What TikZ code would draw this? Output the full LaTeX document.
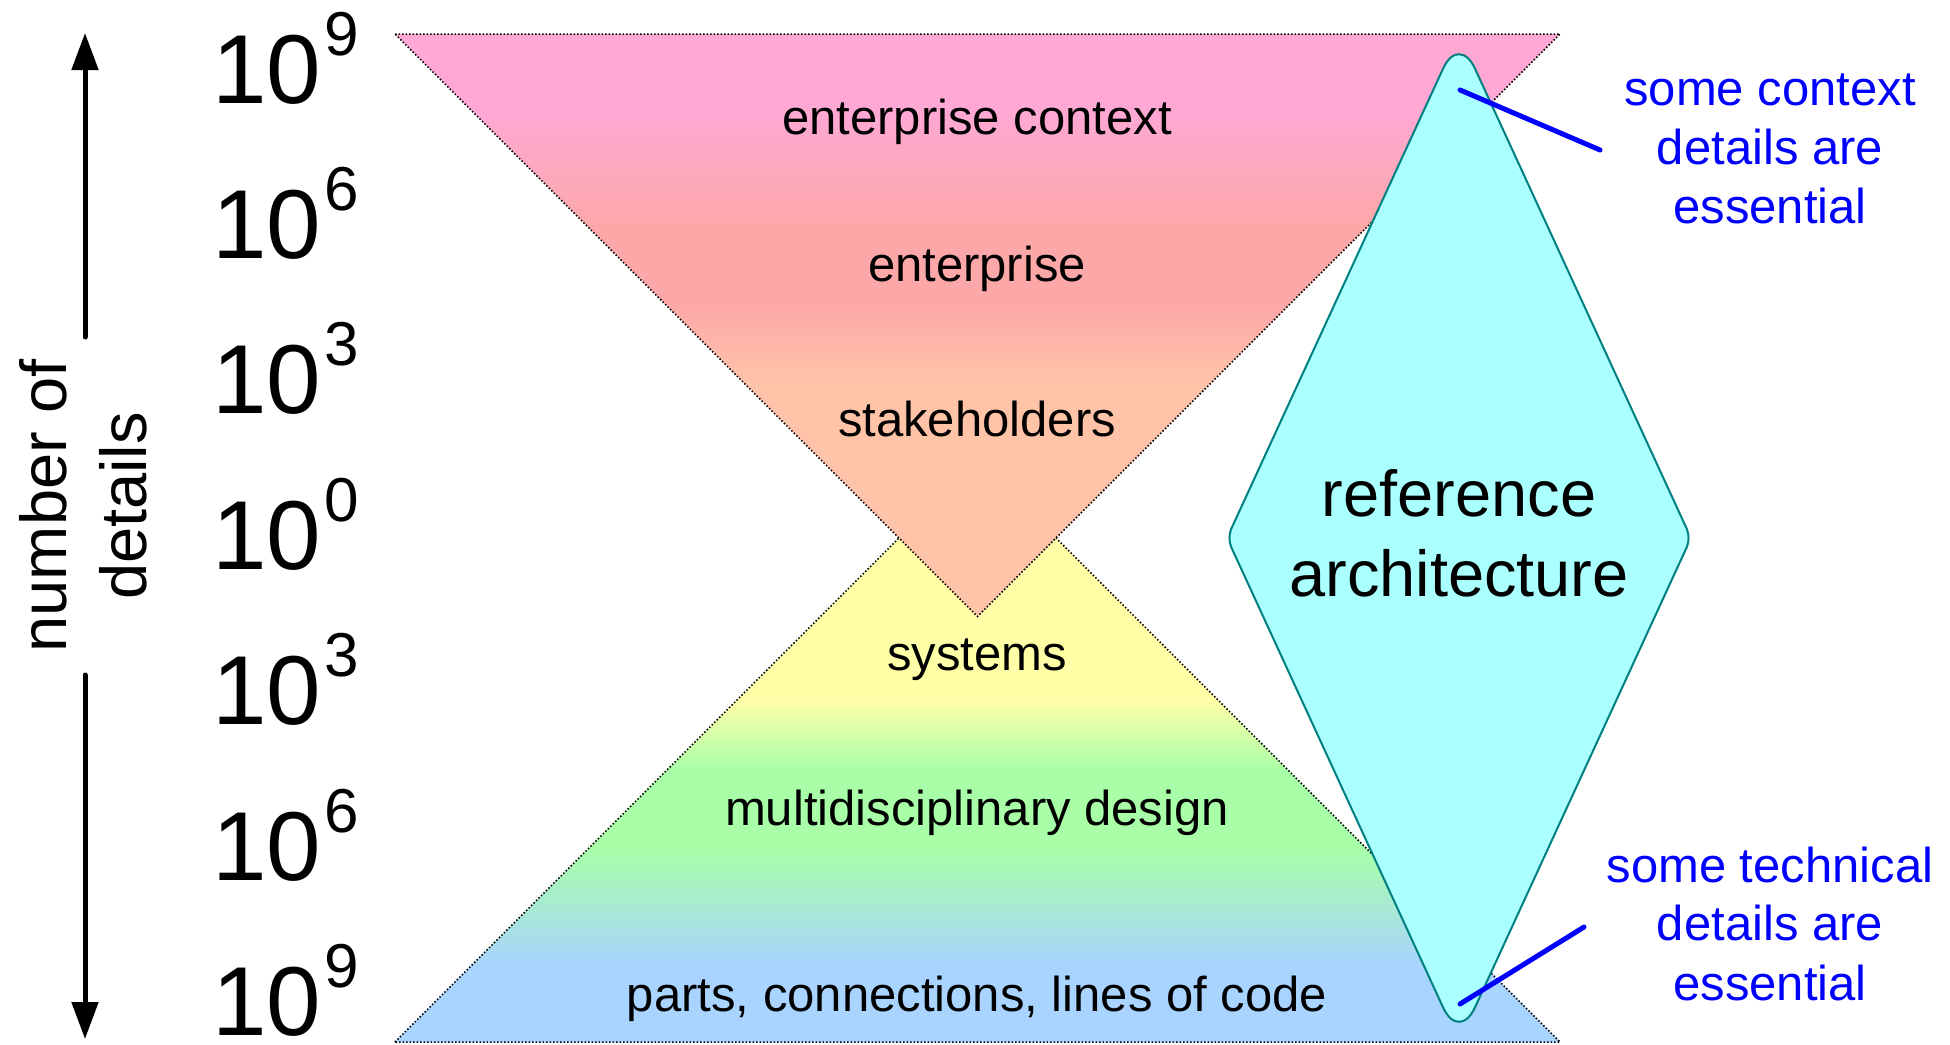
\documentclass[tikz,border=0pt]{standalone}
\usepackage{fontspec}
\setmainfont{Liberation Sans}
\usetikzlibrary{arrows.meta}
\definecolor{pinkA}{RGB}{255,168,212}
\definecolor{salmonA}{RGB}{252,168,168}
\definecolor{peachA}{RGB}{255,196,168}
\definecolor{yellowA}{RGB}{255,255,168}
\definecolor{greenA}{RGB}{168,255,168}
\definecolor{blueA}{RGB}{168,212,255}
\definecolor{cyanA}{RGB}{170,255,255}
\definecolor{tealA}{RGB}{0,128,128}
\definecolor{noteblue}{RGB}{0,0,255}
\begin{document}
\begin{tikzpicture}[x=1pt,y=-1pt,
  tridot/.style={draw=black, line width=1.5pt, dash pattern=on 1.5pt off 2pt},
  lbl/.style={anchor=base, inner sep=0pt, font=\fontsize{49}{58}\selectfont},
  biglbl/.style={anchor=base, inner sep=0pt, font=\fontsize{65}{80}\selectfont},
  notelbl/.style={anchor=base, inner sep=0pt, text=noteblue, font=\fontsize{49}{58}\selectfont},
  explbl/.style={anchor=base west, inner sep=0pt, font=\fontsize{98}{98}\selectfont},
  axlbl/.style={anchor=base, inner sep=0pt, rotate=90, font=\fontsize{65}{80}\selectfont},
  axarrow/.style={line width=5pt, line cap=round, -{Triangle[width=26pt,length=37pt]}},
  noteline/.style={draw=noteblue, line width=5pt, line cap=round},
  diamondshape/.style={fill=cyanA, draw=tealA, line width=2pt}]
\useasboundingbox (0,0) rectangle (1950,1044);
\newcommand{\expo}[1]{10\kern3pt\raisebox{48pt}{\fontsize{62}{62}\selectfont #1}}
% bottom triangle
\coordinate (bl) at (395,1042);
\coordinate (br) at (1560,1042);
\coordinate (bt) at (977.5,459.5);
\begin{scope}
  \clip (bl) -- (bt) -- (br) -- cycle;
  \fill[yellowA] (390,450) rectangle (1565,700);
  \shade[top color=yellowA, bottom color=greenA] (390,700) rectangle (1565,771);
  \fill[greenA] (390,771) rectangle (1565,849);
  \shade[top color=greenA, bottom color=blueA] (390,849) rectangle (1565,965);
  \fill[blueA] (390,965) rectangle (1565,1050);
\end{scope}
\draw[tridot] (bl) -- (bt) -- (br) -- cycle;
% top triangle
\coordinate (tl) at (395,34);
\coordinate (tr) at (1560,34);
\coordinate (tb) at (977.5,616.5);
\begin{scope}
  \clip (tl) -- (tr) -- (tb) -- cycle;
  \fill[pinkA] (390,30) rectangle (1565,112);
  \shade[top color=pinkA, bottom color=salmonA] (390,112) rectangle (1565,228);
  \fill[salmonA] (390,228) rectangle (1565,306);
  \shade[top color=salmonA, bottom color=peachA] (390,306) rectangle (1565,384);
  \fill[peachA] (390,384) rectangle (1565,620);
\end{scope}
\draw[tridot] (tl) -- (tr) -- (tb) -- cycle;
% layer labels
\node[lbl] (l1) at (977,134) {enterprise context};
\node[lbl] (l2) at (977,281) {enterprise};
\node[lbl] (l3) at (977,436) {stakeholders};
\node[lbl] (l4) at (977,670) {systems};
\node[lbl] (l5) at (977,825) {multidisciplinary design};
\node[lbl] (l6) at (977,1011) {parts, connections, lines of code};
% reference architecture diamond
\draw[diamondshape]
  (1443.1,68.5) .. controls (1451.9,49.4) and (1466.1,49.4) .. (1474.9,68.5)
  -- (1686.8,528.9) .. controls (1689.1,533.9) and (1689.1,542.1) .. (1686.8,547.1)
  -- (1474.9,1007.5) .. controls (1466.1,1026.6) and (1451.9,1026.6) .. (1443.1,1007.5)
  -- (1231.2,547.1) .. controls (1228.9,542.1) and (1228.9,533.9) .. (1231.2,528.9)
  -- cycle;
\node[biglbl] (ra1) at (1459,516) {reference};
\node[biglbl] (ra2) at (1459,596) {architecture};
% notes
\coordinate (c1) at (1460,90);
\coordinate (c2) at (1600,150);
\coordinate (c3) at (1460,1004);
\coordinate (c4) at (1584,927);
\draw[noteline] (c1) -- (c2);
\draw[noteline] (c3) -- (c4);
\node[notelbl] (n1) at (1770,105) {some context};
\node[notelbl] (n2) at (1770,164) {details are};
\node[notelbl] (n3) at (1770,223) {essential};
\node[notelbl] (n4) at (1770,882) {some technical};
\node[notelbl] (n5) at (1770,940) {details are};
\node[notelbl] (n6) at (1770,1000) {essential};
% exponent scale
\node[explbl] (e1) at (212,103) {\expo{9}};
\node[explbl] (e2) at (212,258) {\expo{6}};
\node[explbl] (e3) at (212,413) {\expo{3}};
\node[explbl] (e4) at (212,569) {\expo{0}};
\node[explbl] (e5) at (212,724) {\expo{3}};
\node[explbl] (e6) at (212,880) {\expo{6}};
\node[explbl] (e7) at (212,1035) {\expo{9}};
% axis
\coordinate (a1) at (85,337);
\coordinate (a2) at (85,33);
\coordinate (a3) at (85,675);
\coordinate (a4) at (85,1039);
\draw[axarrow] (a1) -- (a2);
\draw[axarrow] (a3) -- (a4);
\node[axlbl] (ax1) at (66,506) {number of};
\node[axlbl] (ax2) at (146,506) {details};
\end{tikzpicture}
\end{document}
